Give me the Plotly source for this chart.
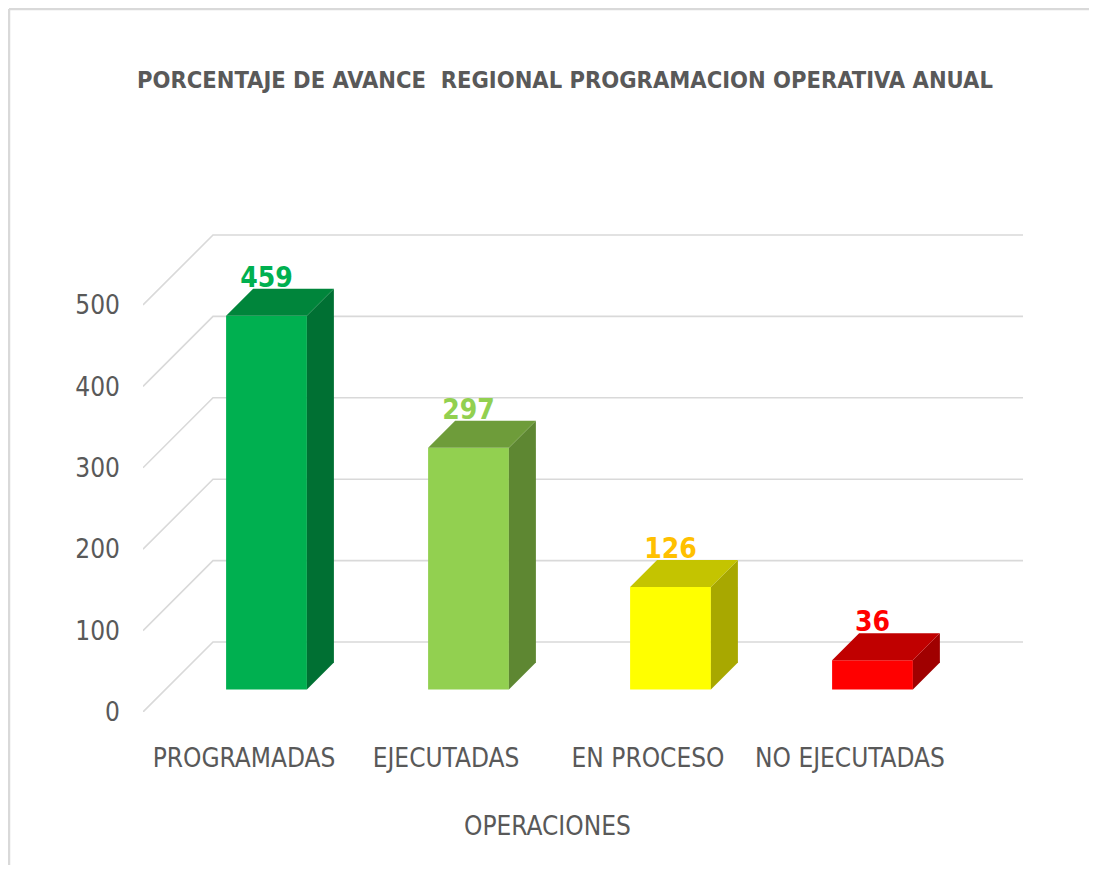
import plotly.graph_objects as go

# ---- data ----
categories = ["PROGRAMADAS", "EJECUTADAS", "EN PROCESO", "NO EJECUTADAS"]
values = [459, 297, 126, 36]
front_colors = ["#00B050", "#92D050", "#FFFF00", "#FF0000"]
top_colors = ["#00853B", "#6E9C3A", "#C4C400", "#C00000"]
side_colors = ["#007033", "#5E8732", "#A8A800", "#A00000"]
label_colors = ["#00B050", "#92D050", "#FFC000", "#FF0000"]
y_ticks = [0, 100, 200, 300, 400, 500]
title_text = "PORCENTAJE DE AVANCE  REGIONAL PROGRAMACION OPERATIVA ANUAL"
x_title = "OPERACIONES"

# ---- layout geometry (figure pixels; page has an 8px body margin) ----
W, H = 1081, 857
ML, MR, MT, MB = 135, 66, 216, 153
PX_PER_X = 202.0          # pixels per category unit
PX_PER_Y = 0.814          # pixels per value unit
X_MIN = -0.5
X_MAX = X_MIN + (W - ML - MR) / PX_PER_X
Y_MAX = (H - MT - MB) / PX_PER_Y


def depth(d):
    """oblique offset (in axis units) for a depth of d pixels"""
    return d / PX_PER_X, d / PX_PER_Y


FONT = "Liberation Sans Narrow, DejaVu Sans Condensed, Arial Narrow, sans-serif"
GRID = "#D9D9D9"

fig = go.Figure()
shapes = []

# perspective gridlines: side wall diagonal + back wall line (drawn below traces)
wx, wy = depth(70)
for v in y_ticks:
    shapes.append(dict(
        type="path", xref="x", yref="y", layer="below",
        path=f"M {X_MIN},{v} L {X_MIN + wx},{v + wy} L {X_MAX},{v + wy}",
        line=dict(color=GRID, width=1.6)))

# bars
fx, fy = depth(22.5)      # bar front face depth
bx, by = depth(27)        # bar depth
_, label_drop = depth(5)  # labels sit slightly lower, touching the bar top
half = 0.2
for i, (cat, v) in enumerate(zip(categories, values)):
    cx = i + fx
    L, R = cx - half, cx + half
    # front face
    fig.add_trace(go.Bar(x=[cx], y=[v], base=[fy], width=[2 * half],
                         marker=dict(color=front_colors[i], line=dict(width=0)),
                         showlegend=False, hoverinfo="skip"))
    # side face
    fig.add_trace(go.Scatter(
        x=[R, R, R + bx, R + bx, R], y=[fy, fy + v, fy + v + by, fy + by, fy],
        mode="lines", fill="toself", fillcolor=side_colors[i],
        line=dict(width=0, color=side_colors[i]), hoverinfo="skip", showlegend=False))
    # top face
    fig.add_trace(go.Scatter(
        x=[L, R, R + bx, L + bx, L], y=[fy + v, fy + v, fy + v + by, fy + v + by, fy + v],
        mode="lines", fill="toself", fillcolor=top_colors[i],
        line=dict(width=0, color=top_colors[i]), hoverinfo="skip", showlegend=False))
    # data label
    fig.add_trace(go.Scatter(
        x=[cx], y=[fy + v + by - label_drop], mode="text", text=[str(v)],
        textposition="top center",
        textfont=dict(family=FONT, size=28, color=label_colors[i], weight="bold"),
        cliponaxis=False, hoverinfo="skip", showlegend=False))


def px_to_paper(px, py):
    return (px - ML) / (W - ML - MR), (H - MB - py) / (H - MT - MB)


x0, y0 = px_to_paper(1, 1)
x1, _ = px_to_paper(W + 5, 1)
_, y1 = px_to_paper(1, H + 5)
shapes += [
    dict(type="line", xref="paper", yref="paper", x0=x0, y0=y0, x1=x1, y1=y0,
         line=dict(color="#D9D9D9", width=2.5)),
    dict(type="line", xref="paper", yref="paper", x0=x0, y0=y0, x1=x0, y1=y1,
         line=dict(color="#D9D9D9", width=2.5)),
]

fig.update_layout(
    width=W, height=H,
    margin=dict(l=ML, r=MR, t=MT, b=MB, autoexpand=False),
    paper_bgcolor="white", plot_bgcolor="white",
    barmode="overlay",
    title=dict(text=title_text, x=(565 - 8) / W, xanchor="center",
               y=1 - (80 - 8) / H, yanchor="middle",
               font=dict(family=FONT, size=23.5, color="#595959", weight="bold")),
    xaxis=dict(range=[X_MIN, X_MAX], tickmode="array", tickvals=list(range(len(categories))),
               ticktext=categories, showgrid=False, zeroline=False, showline=False,
               ticks="", ticklabelstandoff=28,
               tickfont=dict(family=FONT, size=26, color="#595959")),
    yaxis=dict(range=[0, Y_MAX], tickmode="array", tickvals=y_ticks,
               showgrid=False, zeroline=False, showline=False, ticks="",
               ticklabelstandoff=22,
               tickfont=dict(family=FONT, size=26, color="#595959")),
    annotations=[dict(text=x_title, xref="x", yref="paper", x=1.5,
                      y=px_to_paper(0, 826 - 8)[1], xanchor="center", yanchor="middle",
                      showarrow=False,
                      font=dict(family=FONT, size=26, color="#595959"))],
    shapes=shapes,
)

fig.write_html("out.html")
